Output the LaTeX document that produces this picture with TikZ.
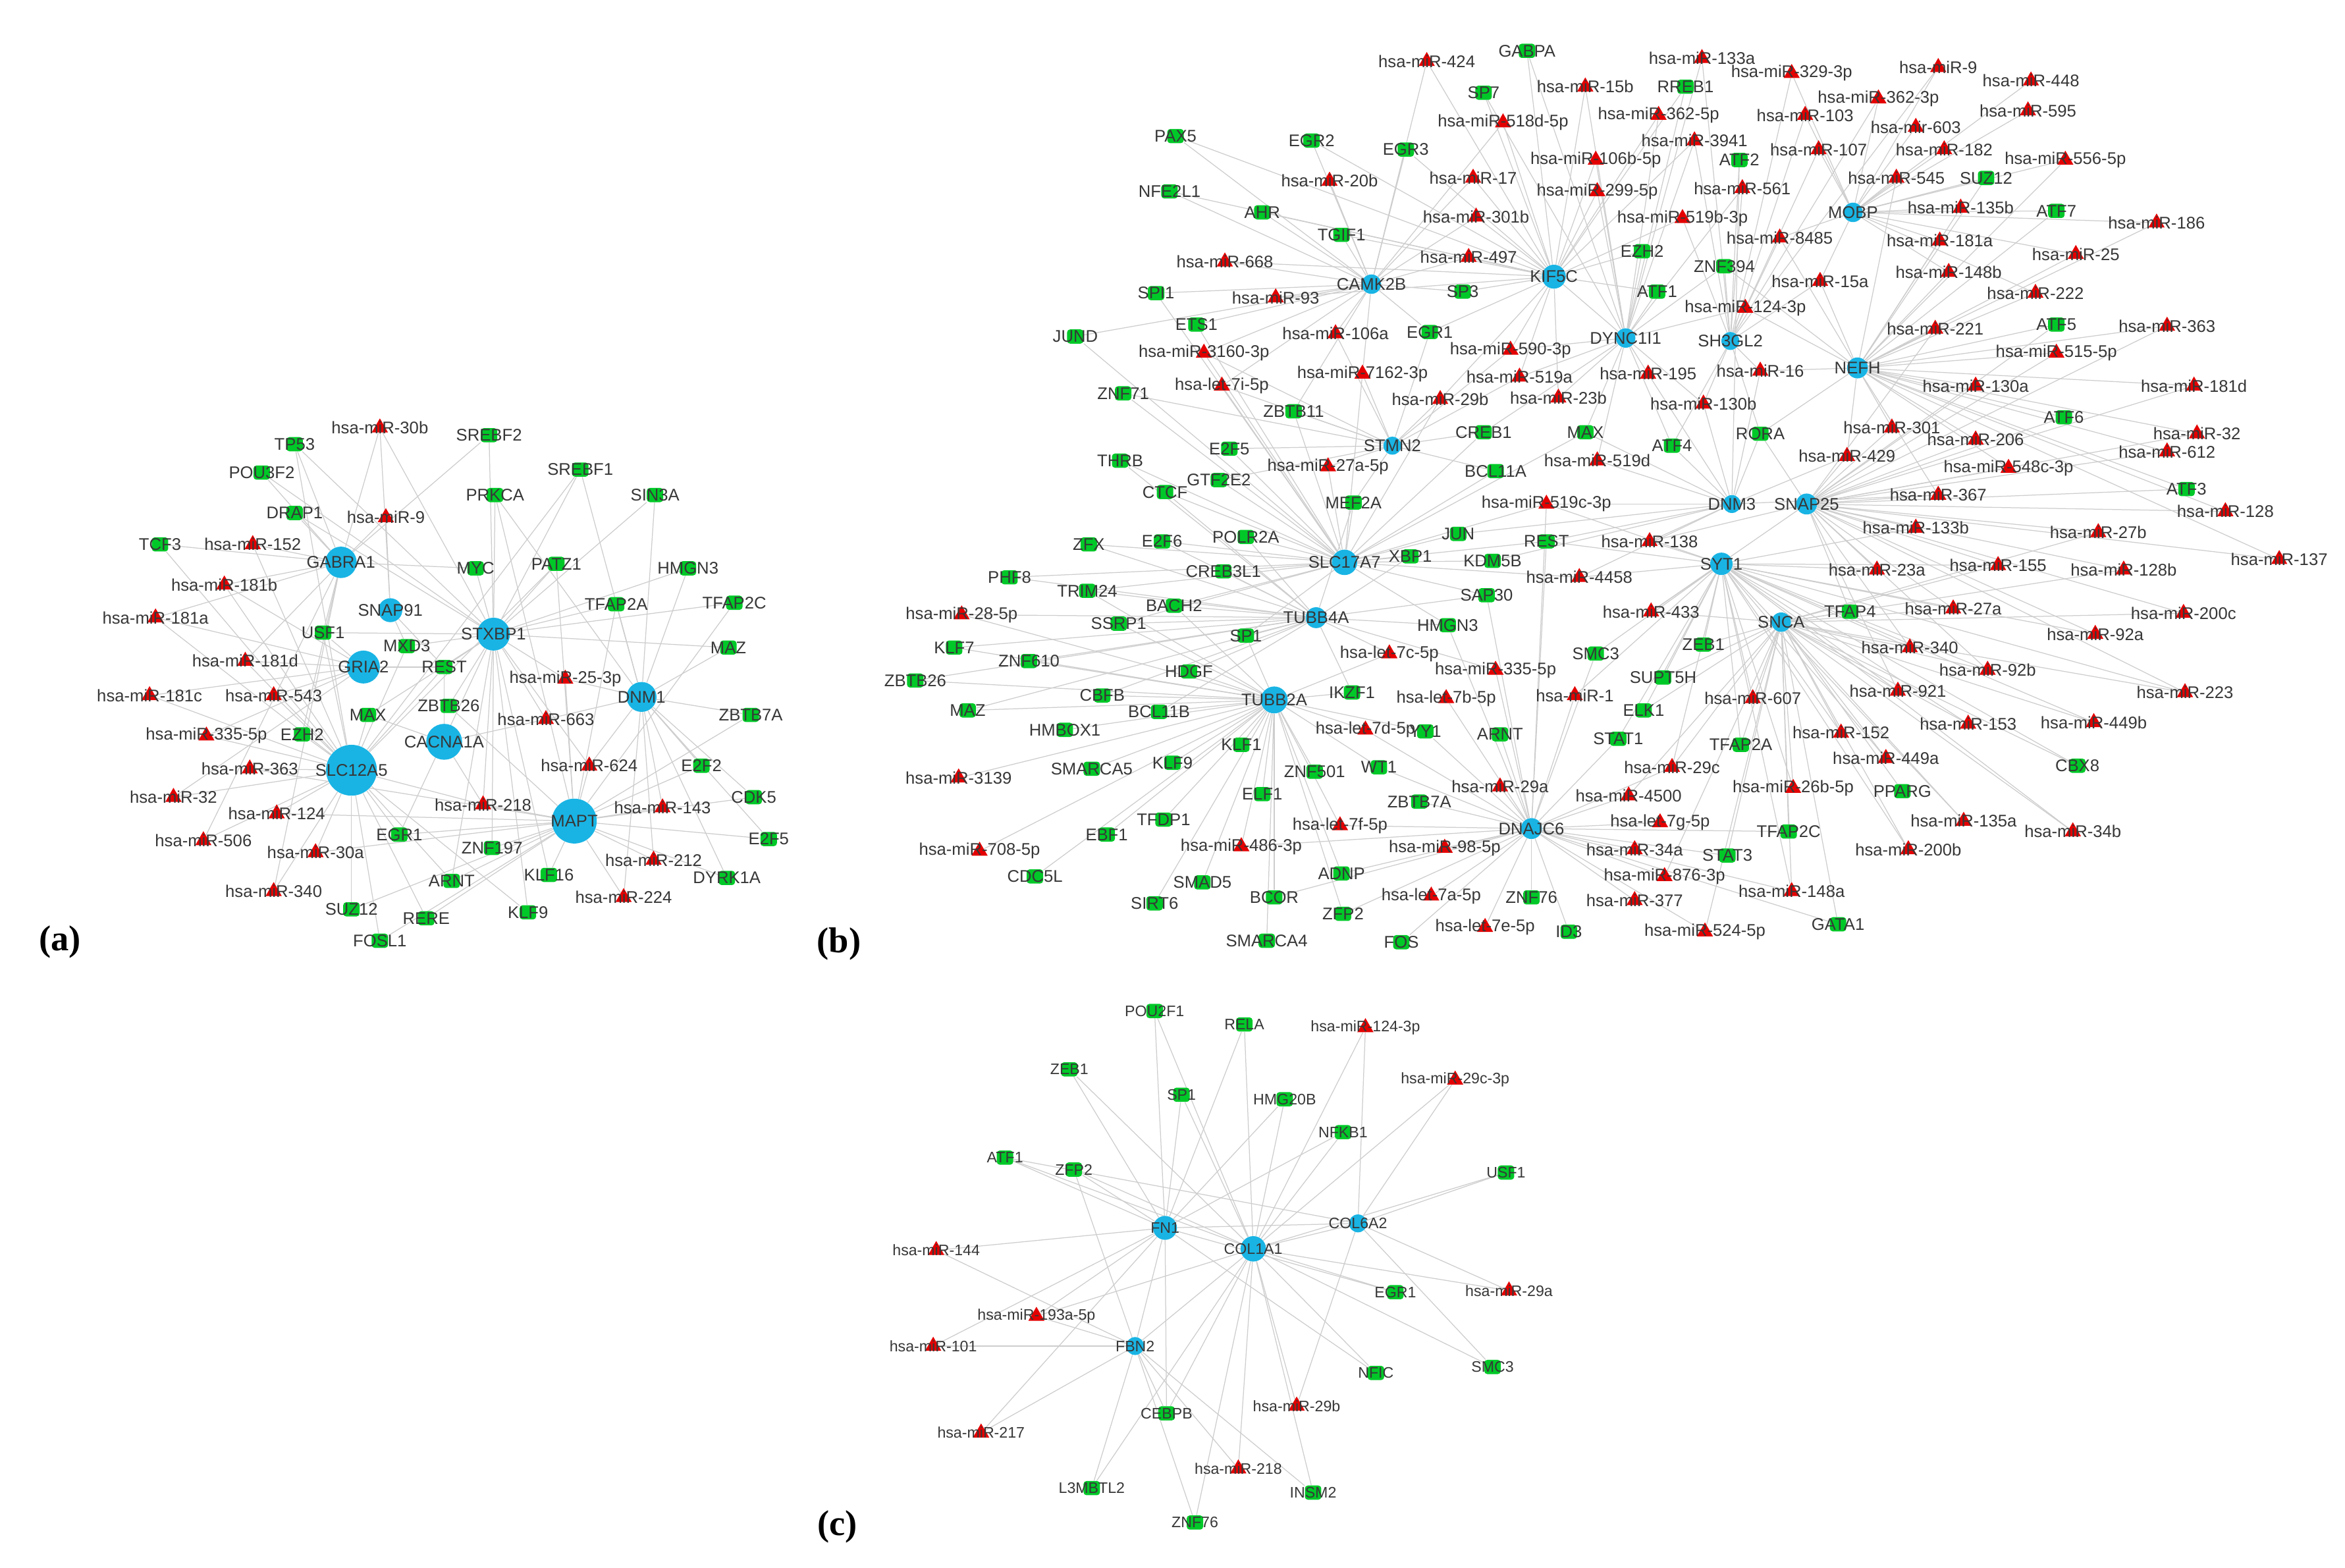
\documentclass[tikz,border=0pt]{standalone}
\usepackage{fontspec}
\setmainfont{Liberation Sans}
\newfontfamily\panelfont{Liberation Serif}
\usetikzlibrary{shapes.geometric}
\definecolor{tfgreen}{RGB}{0,200,40}
\definecolor{mirred}{RGB}{228,0,0}
\definecolor{geneblue}{RGB}{25,180,228}
\definecolor{linkgray}{RGB}{205,205,205}
\definecolor{labgray}{RGB}{55,55,55}
\pgfdeclarelayer{background}
\pgfsetlayers{background,main}
\tikzset{
  tf/.style={rectangle,rounded corners=2pt,fill=tfgreen,minimum width=11pt,minimum height=9.5pt,inner sep=0pt},
  mir/.style={regular polygon,regular polygon sides=3,fill=mirred,minimum size=12.5pt,inner sep=0pt},
  gene/.style={circle,fill=geneblue,inner sep=0pt,minimum size=#1},
  link/.style={draw=linkgray,line width=0.55pt},
  every label/.style={font=\fontsize{11.3}{12}\selectfont,text=labgray,inner sep=0pt},
  panel/.style={font=\panelfont\bfseries\fontsize{24}{26}\selectfont}
}
\begin{document}
\begin{tikzpicture}[x=1pt,y=-1pt]
  \useasboundingbox (0,0) rectangle (1568,1048);

  % (a)
  \node[gene=21pt,label=center:GABRA1] (aGABRA1) at (228,376) {};
  \node[gene=16pt,label=center:SNAP91] (aSNAP91) at (261,408) {};
  \node[gene=22pt,label=center:GRIA2] (aGRIA2) at (243,446) {};
  \node[gene=22pt,label=center:STXBP1] (aSTXBP1) at (330,424) {};
  \node[gene=20pt,label=center:DNM1] (aDNM1) at (429,466) {};
  \node[gene=24pt,label=center:CACNA1A] (aCACNA1A) at (297,496) {};
  \node[gene=34pt,label=center:SLC12A5] (aSLC12A5) at (235,515) {};
  \node[gene=30pt,label=center:MAPT] (aMAPT) at (384,549) {};

  \node[tf,label=center:TP53] (aTP53) at (197,297) {};
  \node[tf,label=center:SREBF2] (aSREBF2) at (327,291) {};
  \node[tf,label=center:POU3F2] (aPOU3F2) at (175,316) {};
  \node[tf,label=center:SREBF1] (aSREBF1) at (388,314) {};
  \node[tf,label=center:PRKCA] (aPRKCA) at (331,331) {};
  \node[tf,label=center:SIN3A] (aSIN3A) at (438,331) {};
  \node[tf,label=center:DRAP1] (aDRAP1) at (197,343) {};
  \node[tf,label=center:TCF3] (aTCF3) at (107,364) {};
  \node[tf,label=center:MYC] (aMYC) at (318,380) {};
  \node[tf,label=center:PATZ1] (aPATZ1) at (372,377) {};
  \node[tf,label=center:HMGN3] (aHMGN3) at (460,380) {};
  \node[tf,label=center:TFAP2A] (aTFAP2A) at (412,404) {};
  \node[tf,label=center:TFAP2C] (aTFAP2C) at (491,403) {};
  \node[tf,label=center:USF1] (aUSF1) at (216,423) {};
  \node[tf,label=center:MXD3] (aMXD3) at (272,432) {};
  \node[tf,label=center:MAZ] (aMAZ) at (487,433) {};
  \node[tf,label=center:REST] (aREST) at (297,446) {};
  \node[tf,label=center:ZBTB26] (aZBTB26) at (300,472) {};
  \node[tf,label=center:ZBTB7A] (aZBTB7A) at (502,478) {};
  \node[tf,label=center:MAX] (aMAX) at (246,478) {};
  \node[tf,label=center:EZH2] (aEZH2) at (202,491) {};
  \node[tf,label=center:E2F2] (aE2F2) at (469,512) {};
  \node[tf,label=center:CDK5] (aCDK5) at (504,533) {};
  \node[tf,label=center:EGR1] (aEGR1) at (267,558) {};
  \node[tf,label=center:ZNF197] (aZNF197) at (329,567) {};
  \node[tf,label=center:E2F5] (aE2F5) at (514,561) {};
  \node[tf,label=center:ARNT] (aARNT) at (302,589) {};
  \node[tf,label=center:KLF16] (aKLF16) at (367,585) {};
  \node[tf,label=center:DYRK1A] (aDYRK1A) at (486,587) {};
  \node[tf,label=center:SUZ12] (aSUZ12) at (235,608) {};
  \node[tf,label=center:RERE] (aRERE) at (285,614) {};
  \node[tf,label=center:KLF9] (aKLF9) at (353,610) {};
  \node[tf,label=center:FOSL1] (aFOSL1) at (254,629) {};

  \node[mir,label=center:hsa-miR-30b] (am30b) at (254,286) {};
  \node[mir,label=center:hsa-miR-9] (am9) at (258,346) {};
  \node[mir,label=center:hsa-miR-152] (am152) at (169,364) {};
  \node[mir,label=center:hsa-miR-181b] (am181b) at (150,391) {};
  \node[mir,label=center:hsa-miR-181a] (am181a) at (104,413) {};
  \node[mir,label=center:hsa-miR-181d] (am181d) at (164,442) {};
  \node[mir,label=center:hsa-miR-181c] (am181c) at (100,465) {};
  \node[mir,label=center:hsa-miR-543] (am543) at (183,465) {};
  \node[mir,label=center:hsa-miR-335-5p] (am335) at (138,492) {};
  \node[mir,label=center:hsa-miR-363] (am363) at (167,514) {};
  \node[mir,label=center:hsa-miR-32] (am32) at (116,533) {};
  \node[mir,label=center:hsa-miR-124] (am124) at (185,544) {};
  \node[mir,label=center:hsa-miR-506] (am506) at (136,562) {};
  \node[mir,label=center:hsa-miR-30a] (am30a) at (211,570) {};
  \node[mir,label=center:hsa-miR-340] (am340) at (183,596) {};
  \node[mir,label=center:hsa-miR-25-3p] (am25) at (378,454) {};
  \node[mir,label=center:hsa-miR-663] (am663) at (365,481) {};
  \node[mir,label=center:hsa-miR-624] (am624) at (394,512) {};
  \node[mir,label=center:hsa-miR-218] (am218) at (323,538) {};
  \node[mir,label=center:hsa-miR-143] (am143) at (443,540) {};
  \node[mir,label=center:hsa-miR-212] (am212) at (437,575) {};
  \node[mir,label=center:hsa-miR-224] (am224) at (417,600) {};

  % (b)
  \node[gene=13pt,label=center:CAMK2B] (bCAMK2B) at (917,190) {};
  \node[gene=16pt,label=center:KIF5C] (bKIF5C) at (1039,185) {};
  \node[gene=13pt,label=center:MOBP] (bMOBP) at (1239,142) {};
  \node[gene=13pt,label=center:DYNC1I1] (bDYNC1I1) at (1087,226) {};
  \node[gene=12pt,label=center:SH3GL2] (bSH3GL2) at (1157,228) {};
  \node[gene=14pt,label=center:NEFH] (bNEFH) at (1242,246) {};
  \node[gene=12pt,label=center:STMN2] (bSTMN2) at (931,298) {};
  \node[gene=17pt,label=center:SLC17A7] (bSLC17A7) at (899,376) {};
  \node[gene=14pt,label=center:TUBB4A] (bTUBB4A) at (880,413) {};
  \node[gene=18pt,label=center:TUBB2A] (bTUBB2A) at (852,468) {};
  \node[gene=12pt,label=center:DNM3] (bDNM3) at (1158,337) {};
  \node[gene=14pt,label=center:SNAP25] (bSNAP25) at (1208,337) {};
  \node[gene=15pt,label=center:SYT1] (bSYT1) at (1151,377) {};
  \node[gene=13pt,label=center:SNCA] (bSNCA) at (1191,416) {};
  \node[gene=14pt,label=center:DNAJC6] (bDNAJC6) at (1024,554) {};

  \node[tf,label=center:PAX5] (bPAX5) at (786,91) {};
  \node[tf,label=center:EGR2] (bEGR2) at (877,94) {};
  \node[tf,label=center:NFE2L1] (bNFE2L1) at (782,128) {};
  \node[tf,label=center:AHR] (bAHR) at (844,142) {};
  \node[tf,label=center:TGIF1] (bTGIF1) at (897,157) {};
  \node[tf,label=center:SPI1] (bSPI1) at (773,196) {};
  \node[tf,label=center:ETS1] (bETS1) at (800,217) {};
  \node[tf,label=center:JUND] (bJUND) at (719,225) {};
  \node[tf,label=center:ZNF71] (bZNF71) at (751,263) {};
  \node[tf,label=center:ZBTB11] (bZBTB11) at (865,275) {};
  \node[tf,label=center:E2F5] (bE2F5) at (822,300) {};
  \node[tf,label=center:THRB] (bTHRB) at (749,308) {};
  \node[tf,label=center:GTF2E2] (bGTF2E2) at (815,321) {};
  \node[tf,label=center:CTCF] (bCTCF) at (779,329) {};
  \node[tf,label=center:GABPA] (bGABPA) at (1021,34) {};
  \node[tf,label=center:SP7] (bSP7) at (992,62) {};
  \node[tf,label=center:RREB1] (bRREB1) at (1127,58) {};
  \node[tf,label=center:EGR3] (bEGR3) at (940,100) {};
  \node[tf,label=center:ATF2] (bATF2) at (1163,107) {};
  \node[tf,label=center:EZH2] (bEZH2) at (1098,168) {};
  \node[tf,label=center:ZNF394] (bZNF394) at (1153,178) {};
  \node[tf,label=center:SP3] (bSP3) at (978,195) {};
  \node[tf,label=center:ATF1] (bATF1) at (1108,195) {};
  \node[tf,label=center:EGR1] (bEGR1) at (956,222) {};
  \node[tf,label=center:CREB1] (bCREB1) at (992,289) {};
  \node[tf,label=center:MAX] (bMAX) at (1060,289) {};
  \node[tf,label=center:RORA] (bRORA) at (1177,290) {};
  \node[tf,label=center:ATF4] (bATF4) at (1118,298) {};
  \node[tf,label=center:BCL11A] (bBCL11A) at (1000,315) {};
  \node[tf,label=center:SUZ12] (bSUZ12) at (1328,119) {};
  \node[tf,label=center:ATF7] (bATF7) at (1375,141) {};
  \node[tf,label=center:ATF5] (bATF5) at (1375,217) {};
  \node[tf,label=center:ATF6] (bATF6) at (1380,279) {};
  \node[tf,label=center:ATF3] (bATF3) at (1462,327) {};
  \node[tf,label=center:MEF2A] (bMEF2A) at (905,336) {};
  \node[tf,label=center:ZFX] (bZFX) at (728,364) {};
  \node[tf,label=center:E2F6] (bE2F6) at (777,362) {};
  \node[tf,label=center:POLR2A] (bPOLR2A) at (833,359) {};
  \node[tf,label=center:PHF8] (bPHF8) at (675,386) {};
  \node[tf,label=center:CREB3L1] (bCREB3L1) at (818,382) {};
  \node[tf,label=center:TRIM24] (bTRIM24) at (727,395) {};
  \node[tf,label=center:BACH2] (bBACH2) at (785,405) {};
  \node[tf,label=center:SSRP1] (bSSRP1) at (748,417) {};
  \node[tf,label=center:SP1] (bSP1) at (833,425) {};
  \node[tf,label=center:KLF7] (bKLF7) at (638,433) {};
  \node[tf,label=center:ZNF610] (bZNF610) at (688,442) {};
  \node[tf,label=center:ZBTB26] (bZBTB26) at (612,455) {};
  \node[tf,label=center:HDGF] (bHDGF) at (795,449) {};
  \node[tf,label=center:CBFB] (bCBFB) at (737,465) {};
  \node[tf,label=center:IKZF1] (bIKZF1) at (904,463) {};
  \node[tf,label=center:MAZ] (bMAZ) at (647,475) {};
  \node[tf,label=center:BCL11B] (bBCL11B) at (775,476) {};
  \node[tf,label=center:HMBOX1] (bHMBOX1) at (712,488) {};
  \node[tf,label=center:KLF1] (bKLF1) at (830,498) {};
  \node[tf,label=center:SMARCA5] (bSMARCA5) at (730,514) {};
  \node[tf,label=center:KLF9] (bKLF9) at (784,510) {};
  \node[tf,label=center:ZNF501] (bZNF501) at (879,516) {};
  \node[tf,label=center:ELF1] (bELF1) at (844,531) {};
  \node[tf,label=center:TFDP1] (bTFDP1) at (778,548) {};
  \node[tf,label=center:EBF1] (bEBF1) at (740,558) {};
  \node[tf,label=center:CDC5L] (bCDC5L) at (692,586) {};
  \node[tf,label=center:ADNP] (bADNP) at (897,584) {};
  \node[tf,label=center:SMAD5] (bSMAD5) at (804,590) {};
  \node[tf,label=center:BCOR] (bBCOR) at (852,600) {};
  \node[tf,label=center:SIRT6] (bSIRT6) at (772,604) {};
  \node[tf,label=center:ZFP2] (bZFP2) at (898,611) {};
  \node[tf,label=center:SMARCA4] (bSMARCA4) at (847,629) {};
  \node[tf,label=center:JUN] (bJUN) at (975,357) {};
  \node[tf,label=center:REST] (bREST) at (1034,362) {};
  \node[tf,label=center:XBP1] (bXBP1) at (943,372) {};
  \node[tf,label=center:KDM5B] (bKDM5B) at (998,375) {};
  \node[tf,label=center:SAP30] (bSAP30) at (994,398) {};
  \node[tf,label=center:HMGN3] (bHMGN3) at (968,418) {};
  \node[tf,label=center:ZEB1] (bZEB1) at (1139,431) {};
  \node[tf,label=center:SMC3] (bSMC3) at (1067,437) {};
  \node[tf,label=center:SUPT5H] (bSUPT5H) at (1112,453) {};
  \node[tf,label=center:ELK1] (bELK1) at (1099,475) {};
  \node[tf,label=center:YY1] (bYY1) at (953,489) {};
  \node[tf,label=center:ARNT] (bARNT) at (1003,491) {};
  \node[tf,label=center:STAT1] (bSTAT1) at (1082,494) {};
  \node[tf,label=center:TFAP2A] (bTFAP2A) at (1164,498) {};
  \node[tf,label=center:TFAP4] (bTFAP4) at (1237,409) {};
  \node[tf,label=center:WT1] (bWT1) at (922,513) {};
  \node[tf,label=center:ZBTB7A] (bZBTB7A) at (949,536) {};
  \node[tf,label=center:TFAP2C] (bTFAP2C) at (1196,556) {};
  \node[tf,label=center:STAT3] (bSTAT3) at (1155,572) {};
  \node[tf,label=center:ZNF76] (bZNF76) at (1024,600) {};
  \node[tf,label=center:ID3] (bID3) at (1049,623) {};
  \node[tf,label=center:GATA1] (bGATA1) at (1229,618) {};
  \node[tf,label=center:FOS] (bFOS) at (937,630) {};
  \node[tf,label=center:CBX8] (bCBX8) at (1389,512) {};
  \node[tf,label=center:PPARG] (bPPARG) at (1272,529) {};

  \node[mir,label=center:hsa-miR-424] (bm424) at (954,41) {};
  \node[mir,label=center:hsa-miR-133a] (bm133a) at (1138,39) {};
  \node[mir,label=center:hsa-miR-329-3p] (bm329) at (1198,49) {};
  \node[mir,label=center:hsa-miR-15b] (bm15b) at (1060,58) {};
  \node[mir,label=center:hsa-miR-518d-5p] (bm518d) at (1005,82) {};
  \node[mir,label=center:hsa-miR-362-5p] (bm362b) at (1109,77) {};
  \node[mir,label=center:hsa-miR-103] (bm103) at (1207,77) {};
  \node[mir,label=center:hsa-miR-3941] (bm3941) at (1133,94) {};
  \node[mir,label=center:hsa-miR-106b-5p] (bm106b) at (1067,107) {};
  \node[mir,label=center:hsa-miR-107] (bm107) at (1216,100) {};
  \node[mir,label=center:hsa-miR-17] (bm17) at (985,119) {};
  \node[mir,label=center:hsa-miR-299-5p] (bm299) at (1068,128) {};
  \node[mir,label=center:hsa-miR-561] (bm561) at (1165,126) {};
  \node[mir,label=center:hsa-miR-301b] (bm301b) at (987,145) {};
  \node[mir,label=center:hsa-miR-519b-3p] (bm519b) at (1125,146) {};
  \node[mir,label=center:hsa-miR-8485] (bm8485) at (1190,159) {};
  \node[mir,label=center:hsa-miR-497] (bm497) at (982,172) {};
  \node[mir,label=center:hsa-miR-15a] (bm15a) at (1217,188) {};
  \node[mir,label=center:hsa-miR-124-3p] (bm124) at (1167,206) {};
  \node[mir,label=center:hsa-miR-20b] (bm20b) at (889,121) {};
  \node[mir,label=center:hsa-miR-668] (bm668) at (819,175) {};
  \node[mir,label=center:hsa-miR-93] (bm93) at (853,199) {};
  \node[mir,label=center:hsa-miR-106a] (bm106a) at (893,223) {};
  \node[mir,label=center:hsa-miR-3160-3p] (bm3160) at (805,236) {};
  \node[mir,label=center:hsa-miR-7162-3p] (bm7162) at (911,250) {};
  \node[mir,label=center:hsa-let-7i-5p] (blet7i) at (817,258) {};
  \node[mir,label=center:hsa-miR-590-3p] (bm590) at (1010,234) {};
  \node[mir,label=center:hsa-miR-519a] (bm519a) at (1016,252) {};
  \node[mir,label=center:hsa-miR-195] (bm195) at (1102,250) {};
  \node[mir,label=center:hsa-miR-16] (bm16) at (1177,248) {};
  \node[mir,label=center:hsa-miR-29b] (bm29b) at (963,267) {};
  \node[mir,label=center:hsa-miR-23b] (bm23b) at (1042,266) {};
  \node[mir,label=center:hsa-miR-130b] (bm130b) at (1139,270) {};
  \node[mir,label=center:hsa-miR-27a-5p] (bm27a5p) at (888,312) {};
  \node[mir,label=center:hsa-miR-519d] (bm519d) at (1068,308) {};
  \node[mir,label=center:hsa-miR-429] (bm429) at (1235,305) {};
  \node[mir,label=center:hsa-miR-9] (bm9) at (1296,45) {};
  \node[mir,label=center:hsa-miR-448] (bm448) at (1358,54) {};
  \node[mir,label=center:hsa-miR-362-3p] (bm362a) at (1256,66) {};
  \node[mir,label=center:hsa-miR-595] (bm595) at (1356,74) {};
  \node[mir,label=center:hsa-mir-603] (bm603) at (1281,85) {};
  \node[mir,label=center:hsa-miR-182] (bm182) at (1300,100) {};
  \node[mir,label=center:hsa-miR-556-5p] (bm556) at (1381,107) {};
  \node[mir,label=center:hsa-miR-545] (bm545) at (1268,119) {};
  \node[mir,label=center:hsa-miR-135b] (bm135b) at (1311,139) {};
  \node[mir,label=center:hsa-miR-186] (bm186) at (1442,149) {};
  \node[mir,label=center:hsa-miR-181a] (bm181a) at (1297,161) {};
  \node[mir,label=center:hsa-miR-25] (bm25) at (1388,170) {};
  \node[mir,label=center:hsa-miR-148b] (bm148b) at (1303,182) {};
  \node[mir,label=center:hsa-miR-222] (bm222) at (1361,196) {};
  \node[mir,label=center:hsa-miR-221] (bm221) at (1294,220) {};
  \node[mir,label=center:hsa-miR-363] (bm363) at (1449,218) {};
  \node[mir,label=center:hsa-miR-515-5p] (bm515) at (1375,236) {};
  \node[mir,label=center:hsa-miR-130a] (bm130a) at (1321,258) {};
  \node[mir,label=center:hsa-miR-181d] (bm181d) at (1467,258) {};
  \node[mir,label=center:hsa-miR-301] (bm301) at (1265,286) {};
  \node[mir,label=center:hsa-miR-206] (bm206) at (1321,294) {};
  \node[mir,label=center:hsa-miR-32] (bm32) at (1469,290) {};
  \node[mir,label=center:hsa-miR-612] (bm612) at (1449,302) {};
  \node[mir,label=center:hsa-miR-548c-3p] (bm548) at (1343,313) {};
  \node[mir,label=center:hsa-miR-367] (bm367) at (1296,331) {};
  \node[mir,label=center:hsa-miR-128] (bm128) at (1488,342) {};
  \node[mir,label=center:hsa-miR-133b] (bm133b) at (1281,353) {};
  \node[mir,label=center:hsa-miR-27b] (bm27b) at (1403,356) {};
  \node[mir,label=center:hsa-miR-137] (bm137) at (1524,374) {};
  \node[mir,label=center:hsa-miR-23a] (bm23a) at (1255,381) {};
  \node[mir,label=center:hsa-miR-155] (bm155) at (1336,378) {};
  \node[mir,label=center:hsa-miR-128b] (bm128b) at (1420,381) {};
  \node[mir,label=center:hsa-miR-27a] (bm27a) at (1306,407) {};
  \node[mir,label=center:hsa-miR-200c] (bm200c) at (1460,410) {};
  \node[mir,label=center:hsa-miR-92a] (bm92a) at (1401,424) {};
  \node[mir,label=center:hsa-miR-340] (bm340) at (1277,433) {};
  \node[mir,label=center:hsa-miR-92b] (bm92b) at (1329,448) {};
  \node[mir,label=center:hsa-miR-223] (bm223) at (1461,463) {};
  \node[mir,label=center:hsa-miR-921] (bm921) at (1269,462) {};
  \node[mir,label=center:hsa-miR-153] (bm153) at (1316,484) {};
  \node[mir,label=center:hsa-miR-449b] (bm449b) at (1400,483) {};
  \node[mir,label=center:hsa-miR-152] (bm152) at (1231,490) {};
  \node[mir,label=center:hsa-miR-449a] (bm449a) at (1261,507) {};
  \node[mir,label=center:hsa-miR-135a] (bm135a) at (1313,549) {};
  \node[mir,label=center:hsa-miR-34b] (bm34b) at (1386,556) {};
  \node[mir,label=center:hsa-miR-200b] (bm200b) at (1276,568) {};
  \node[mir,label=center:hsa-miR-28-5p] (bm28) at (643,411) {};
  \node[mir,label=center:hsa-miR-3139] (bm3139) at (641,520) {};
  \node[mir,label=center:hsa-miR-708-5p] (bm708) at (655,569) {};
  \node[mir,label=center:hsa-miR-486-3p] (bm486) at (830,566) {};
  \node[mir,label=center:hsa-let-7f-5p] (blet7f) at (896,552) {};
  \node[mir,label=center:hsa-miR-519c-3p] (bm519c) at (1034,337) {};
  \node[mir,label=center:hsa-miR-138] (bm138) at (1103,362) {};
  \node[mir,label=center:hsa-miR-4458] (bm4458) at (1056,386) {};
  \node[mir,label=center:hsa-miR-433] (bm433) at (1104,409) {};
  \node[mir,label=center:hsa-let-7c-5p] (blet7c) at (929,437) {};
  \node[mir,label=center:hsa-miR-335-5p] (bm335) at (1000,448) {};
  \node[mir,label=center:hsa-let-7b-5p] (blet7b) at (967,467) {};
  \node[mir,label=center:hsa-miR-1] (bm1) at (1053,465) {};
  \node[mir,label=center:hsa-miR-607] (bm607) at (1172,467) {};
  \node[mir,label=center:hsa-let-7d-5p] (blet7d) at (913,488) {};
  \node[mir,label=center:hsa-miR-29c] (bm29c) at (1118,513) {};
  \node[mir,label=center:hsa-miR-29a] (bm29a) at (1003,526) {};
  \node[mir,label=center:hsa-miR-4500] (bm4500) at (1089,532) {};
  \node[mir,label=center:hsa-miR-26b-5p] (bm26b) at (1199,527) {};
  \node[mir,label=center:hsa-let-7g-5p] (blet7g) at (1110,550) {};
  \node[mir,label=center:hsa-miR-98-5p] (bm98) at (966,567) {};
  \node[mir,label=center:hsa-miR-34a] (bm34a) at (1093,568) {};
  \node[mir,label=center:hsa-miR-876-3p] (bm876) at (1113,586) {};
  \node[mir,label=center:hsa-let-7a-5p] (blet7a) at (957,599) {};
  \node[mir,label=center:hsa-miR-377] (bm377) at (1093,602) {};
  \node[mir,label=center:hsa-miR-148a] (bm148a) at (1198,596) {};
  \node[mir,label=center:hsa-let-7e-5p] (blet7e) at (993,620) {};
  \node[mir,label=center:hsa-miR-524-5p] (bm524) at (1140,623) {};

  % (c)
  \begin{scope}[every label/.append style={font=\fontsize{10.2}{11}\selectfont}]
  \node[gene=16pt,label=center:FN1] (cFN1) at (779,821) {};
  \node[gene=17pt,label=center:COL1A1] (cCOL1A1) at (838,835) {};
  \node[gene=12pt,label=center:COL6A2] (cCOL6A2) at (908,818) {};
  \node[gene=12pt,label=center:FBN2] (cFBN2) at (759,900) {};

  \node[tf,label=center:POU2F1] (cPOU2F1) at (772,676) {};
  \node[tf,label=center:RELA] (cRELA) at (832,685) {};
  \node[tf,label=center:ZEB1] (cZEB1) at (715,715) {};
  \node[tf,label=center:SP1] (cSP1) at (790,732) {};
  \node[tf,label=center:HMG20B] (cHMG20B) at (859,735) {};
  \node[tf,label=center:NFKB1] (cNFKB1) at (898,757) {};
  \node[tf,label=center:ATF1] (cATF1) at (672,774) {};
  \node[tf,label=center:ZFP2] (cZFP2) at (718,782) {};
  \node[tf,label=center:USF1] (cUSF1) at (1007,784) {};
  \node[tf,label=center:EGR1] (cEGR1) at (933,864) {};
  \node[tf,label=center:NFIC] (cNFIC) at (920,918) {};
  \node[tf,label=center:SMC3] (cSMC3) at (998,914) {};
  \node[tf,label=center:CEBPB] (cCEBPB) at (780,945) {};
  \node[tf,label=center:L3MBTL2] (cL3MBTL2) at (730,995) {};
  \node[tf,label=center:ZNF76] (cZNF76) at (799,1018) {};
  \node[tf,label=center:INSM2] (cINSM2) at (878,998) {};

  \node[mir,label=center:hsa-miR-124-3p] (cm124) at (913,687) {};
  \node[mir,label=center:hsa-miR-29c-3p] (cm29c) at (973,722) {};
  \node[mir,label=center:hsa-miR-144] (cm144) at (626,836) {};
  \node[mir,label=center:hsa-miR-193a-5p] (cm193) at (693,880) {};
  \node[mir,label=center:hsa-miR-101] (cm101) at (624,900) {};
  \node[mir,label=center:hsa-miR-29a] (cm29a) at (1009,863) {};
  \node[mir,label=center:hsa-miR-29b] (cm29b) at (867,940) {};
  \node[mir,label=center:hsa-miR-217] (cm217) at (656,958) {};
  \node[mir,label=center:hsa-miR-218] (cm218) at (828,982) {};
  \end{scope}

  \begin{pgfonlayer}{background}
  \draw[link] (aGABRA1) edge (am30b) edge (aTP53) edge (aPOU3F2) edge (aDRAP1) edge (am9) edge (aTCF3) edge (am152) edge (am181b) edge (am181a) edge (am181d) edge (aUSF1) edge (aSREBF2) edge (aMYC) edge (am506) edge (am340) edge (aEZH2);
  \draw[link] (aSNAP91) edge (am30b) edge (am9) edge (aREST) edge (aMXD3);
  \draw[link] (aGRIA2) edge (am181b) edge (am181a) edge (am181d) edge (am181c) edge (am543) edge (am335) edge (am32) edge (aREST) edge (aUSF1);
  \draw[link] (aSTXBP1) edge (am30b) edge (aTP53) edge (aPOU3F2) edge (aDRAP1) edge (aSREBF2) edge (aSREBF1) edge (aPRKCA) edge (aSIN3A) edge (aMYC) edge (aPATZ1) edge (aHMGN3) edge (aTFAP2A) edge (aTFAP2C) edge (aMAZ) edge (aREST) edge (am25) edge (aZBTB26) edge (am663) edge (am624) edge (am218) edge (aZNF197) edge (aARNT) edge (aKLF16) edge (aKLF9) edge (aUSF1) edge (aMAX) edge (aMXD3) edge (aEGR1);
  \draw[link] (aDNM1) edge (aSREBF1) edge (aPRKCA) edge (aSIN3A) edge (aHMGN3) edge (aTFAP2A) edge (aMAZ) edge (am25) edge (aZBTB7A) edge (am663) edge (am624) edge (aE2F2) edge (aCDK5) edge (am143) edge (aE2F5) edge (am212) edge (aDYRK1A) edge (am224);
  \draw[link] (aCACNA1A) edge (am663) edge (am218) edge (aMAX) edge (aREST);
  \draw[link] (aSLC12A5) edge (aTP53) edge (aTCF3) edge (am152) edge (am181b) edge (am181a) edge (am181d) edge (am181c) edge (am543) edge (am335) edge (aEZH2) edge (am363) edge (am32) edge (am124) edge (am506) edge (am30a) edge (am340) edge (aSUZ12) edge (aFOSL1) edge (aUSF1) edge (aMAX) edge (aEGR1) edge (aMXD3) edge (aREST) edge (aSREBF1) edge (aPATZ1) edge (am218) edge (aARNT) edge (aKLF9) edge (aRERE);
  \draw[link] (aMAPT) edge (am363) edge (am124) edge (am30a) edge (aSUZ12) edge (aFOSL1) edge (aEGR1) edge (am25) edge (aZBTB26) edge (aZBTB7A) edge (am624) edge (aE2F2) edge (aCDK5) edge (am218) edge (am143) edge (aZNF197) edge (aE2F5) edge (am212) edge (aARNT) edge (aKLF16) edge (aDYRK1A) edge (am224) edge (aRERE) edge (aPATZ1) edge (aTFAP2A) edge (aTFAP2C) edge (aPRKCA);

  \draw[link] (bCAMK2B) edge (bPAX5) edge (bEGR2) edge (bNFE2L1) edge (bAHR) edge (bTGIF1) edge (bm20b) edge (bm668) edge (bm93) edge (bSPI1) edge (bETS1) edge (bm106a) edge (bm3160) edge (bm424) edge (bEGR3) edge (bm17) edge (bm301b) edge (bm497) edge (bSP3) edge (bEGR1) edge (bZBTB11) edge (bm518d) edge (bm7162) edge (blet7i) edge (bJUND);
  \draw[link] (bKIF5C) edge (bPAX5) edge (bNFE2L1) edge (bAHR) edge (bEGR2) edge (bGABPA) edge (bSP7) edge (bm518d) edge (bm15b) edge (bm106b) edge (bm299) edge (bm17) edge (bm301b) edge (bm497) edge (bSP3) edge (bEGR1) edge (bEZH2) edge (bm519b) edge (bm590) edge (bm519a) edge (bm23b) edge (bm29b) edge (bATF1) edge (bRREB1) edge (bm362b) edge (bm3941) edge (bTGIF1) edge (bm424) edge (bm668) edge (bm93);
  \draw[link] (bDYNC1I1) edge (bGABPA) edge (bm15b) edge (bm133a) edge (bRREB1) edge (bm362b) edge (bm3941) edge (bm106b) edge (bm299) edge (bEZH2) edge (bATF1) edge (bm195) edge (bm130b) edge (bMAX) edge (bATF4) edge (bm519d) edge (bCREB1) edge (bm561) edge (bZNF394) edge (bm124) edge (bSP7) edge (bEGR3) edge (bm590) edge (bm519a) edge (bm23b);
  \draw[link] (bSH3GL2) edge (bm133a) edge (bm329) edge (bm103) edge (bATF2) edge (bm561) edge (bm8485) edge (bZNF394) edge (bm124) edge (bm16) edge (bm130b) edge (bRORA) edge (bATF4) edge (bm15a) edge (bm107) edge (bm9) edge (bm362a) edge (bm519b) edge (bm3941);
  \draw[link] (bMOBP) edge (bm9) edge (bm448) edge (bm362a) edge (bm595) edge (bm603) edge (bm182) edge (bm556) edge (bm545) edge (bSUZ12) edge (bm135b) edge (bATF7) edge (bm181a) edge (bm148b) edge (bm103) edge (bm107) edge (bm329) edge (bm15a) edge (bm8485) edge (bm186) edge (bm25) edge (bm222);
  \draw[link] (bNEFH) edge (bm186) edge (bm25) edge (bm222) edge (bm221) edge (bATF5) edge (bm363) edge (bm515) edge (bm130a) edge (bm181d) edge (bATF6) edge (bm301) edge (bm206) edge (bm32) edge (bm612) edge (bm429) edge (bm548) edge (bATF3) edge (bm367) edge (bm148b) edge (bm181a) edge (bm135b) edge (bm16) edge (bm15a) edge (bm545) edge (bATF7) edge (bSUZ12) edge (bm556) edge (bm124) edge (bZNF394) edge (bRORA) edge (bm128) edge (bm137) edge (bm8485);
  \draw[link] (bSNAP25) edge (bm128) edge (bm137) edge (bm27b) edge (bm133b) edge (bm23a) edge (bm155) edge (bm128b) edge (bm27a) edge (bm200c) edge (bm92a) edge (bm340) edge (bm92b) edge (bm223) edge (bm921) edge (bm367) edge (bATF3) edge (bm612) edge (bm32) edge (bm181d) edge (bm548) edge (bm206) edge (bm301) edge (bm429) edge (bm130a) edge (bATF6) edge (bm363) edge (bm515) edge (bTFAP4) edge (bm138) edge (bm433) edge (bRORA) edge (bm221) edge (bATF5);
  \draw[link] (bDNM3) edge (bm519c) edge (bREST) edge (bm138) edge (bm4458) edge (bm130b) edge (bm16) edge (bRORA) edge (bATF4) edge (bm519d) edge (bMAX) edge (bm195) edge (bKDM5B) edge (bJUN) edge (bATF2) edge (bm429) edge (bm367);
  \draw[link] (bSYT1) edge (bm138) edge (bm433) edge (bm4458) edge (bZEB1) edge (bSUPT5H) edge (bm607) edge (bm152) edge (bm449a) edge (bm921) edge (bm340) edge (bm23a) edge (bm133b) edge (bm27a) edge (bm155) edge (bm92b) edge (bm153) edge (bm200b) edge (bm135a) edge (bm34b) edge (bm449b) edge (bm223) edge (bm92a) edge (bCBX8) edge (bm1) edge (bSMC3) edge (bm29c) edge (bm26b) edge (bm148a) edge (bTFAP2A) edge (bSTAT1) edge (bELK1) edge (bm519c) edge (bREST);
  \draw[link] (bSNCA) edge (bTFAP4) edge (bm27a) edge (bm340) edge (bm921) edge (bm152) edge (bm449a) edge (bPPARG) edge (bm135a) edge (bm200b) edge (bm34b) edge (bm153) edge (bm92b) edge (bm449b) edge (bCBX8) edge (bm607) edge (bm26b) edge (bTFAP2C) edge (bSTAT3) edge (bm148a) edge (bGATA1) edge (bTFAP2A) edge (bZEB1) edge (bm200c) edge (bm223) edge (bm128b) edge (bm27b) edge (bm155) edge (bm433) edge (bSUPT5H) edge (bELK1) edge (bm29c) edge (bm4500) edge (bm524) edge (bm876);
  \draw[link] (bSTMN2) edge (bm7162) edge (bm29b) edge (bm27a5p) edge (bZBTB11) edge (bCREB1) edge (bBCL11A) edge (bm519a) edge (bm590) edge (bMEF2A) edge (bGTF2E2) edge (bE2F5) edge (bZNF71) edge (blet7i) edge (bm106a) edge (bEGR1) edge (bm3160);
  \draw[link] (bSLC17A7) edge (bJUND) edge (bZNF71) edge (bTHRB) edge (bCTCF) edge (bE2F5) edge (bGTF2E2) edge (bm27a5p) edge (bMEF2A) edge (bPOLR2A) edge (bE2F6) edge (bZFX) edge (bCREB3L1) edge (bBACH2) edge (bPHF8) edge (bTRIM24) edge (bSSRP1) edge (bSP1) edge (bXBP1) edge (bJUN) edge (bKDM5B) edge (bSAP30) edge (bHMGN3) edge (bREST) edge (bm519c) edge (bBCL11A) edge (bCREB1) edge (bZBTB11) edge (blet7i) edge (bm3160) edge (bETS1) edge (bSPI1) edge (bm7162) edge (bMAX) edge (bm4458) edge (bm29b);
  \draw[link] (bTUBB4A) edge (bZFX) edge (bE2F6) edge (bPOLR2A) edge (bPHF8) edge (bTRIM24) edge (bm28) edge (bSSRP1) edge (bBACH2) edge (bCREB3L1) edge (bSP1) edge (bHDGF) edge (bKLF7) edge (bZNF610) edge (bZBTB26) edge (bMAZ) edge (bCBFB) edge (bBCL11B) edge (blet7c) edge (bIKZF1) edge (bHMGN3) edge (bSAP30) edge (bXBP1) edge (bCTCF) edge (bTHRB) edge (bm335) edge (bMEF2A);
  \draw[link] (bTUBB2A) edge (bKLF7) edge (bZBTB26) edge (bMAZ) edge (bHMBOX1) edge (bCBFB) edge (bBCL11B) edge (bHDGF) edge (bZNF610) edge (bSSRP1) edge (bSP1) edge (bKLF1) edge (bKLF9) edge (bSMARCA5) edge (bm3139) edge (bZNF501) edge (bELF1) edge (bTFDP1) edge (bEBF1) edge (bm708) edge (bCDC5L) edge (bm486) edge (bSMAD5) edge (bSIRT6) edge (bBCOR) edge (bSMARCA4) edge (bADNP) edge (bZFP2) edge (blet7f) edge (bIKZF1) edge (blet7d) edge (blet7c) edge (bWT1) edge (bYY1) edge (bm28) edge (bBACH2) edge (bTRIM24);
  \draw[link] (bDNAJC6) edge (blet7d) edge (bYY1) edge (bARNT) edge (bWT1) edge (bZBTB7A) edge (bm29a) edge (blet7f) edge (bm98) edge (blet7a) edge (bZNF76) edge (blet7e) edge (bID3) edge (bFOS) edge (bm377) edge (bm876) edge (bm34a) edge (blet7g) edge (bm4500) edge (bSTAT1) edge (bm29c) edge (bm1) edge (bm335) edge (blet7b) edge (bHMGN3) edge (bSMC3) edge (bADNP) edge (bZFP2) edge (bBCOR) edge (bm524) edge (bSTAT3) edge (bm148a) edge (bGATA1) edge (bTFAP2C) edge (bREST) edge (bm519c) edge (bSAP30) edge (bm486);

  \draw[link] (cFN1) edge (cPOU2F1) edge (cZEB1) edge (cSP1) edge (cATF1) edge (cZFP2) edge (cRELA) edge (cm144) edge (cm193) edge (cm101) edge (cHMG20B) edge (cNFKB1) edge (cEGR1) edge (cNFIC) edge (cCEBPB) edge (cFBN2) edge (cCOL6A2) edge (cm217);
  \draw[link] (cCOL1A1) edge (cPOU2F1) edge (cZEB1) edge (cSP1) edge (cATF1) edge (cZFP2) edge (cRELA) edge (cm193) edge (cHMG20B) edge (cNFKB1) edge (cm124) edge (cm29c) edge (cUSF1) edge (cEGR1) edge (cm29a) edge (cNFIC) edge (cSMC3) edge (cm29b) edge (cINSM2) edge (cm218) edge (cCEBPB) edge (cL3MBTL2) edge (cZNF76) edge (cFBN2) edge (cCOL6A2);
  \draw[link] (cCOL6A2) edge (cm124) edge (cm29c) edge (cUSF1) edge (cm29a) edge (cSMC3) edge (cm29b) edge (cATF1);
  \draw[link] (cFBN2) edge (cm144) edge (cm193) edge (cm101) edge (cm217) edge (cZFP2) edge (cCEBPB) edge (cL3MBTL2) edge (cZNF76) edge (cm218) edge (cINSM2);
  \end{pgfonlayer}

  \node[panel] (pa) at (40,630) {(a)};
  \node[panel] (pb) at (561,631) {(b)};
  \node[panel] (pc) at (560,1021) {(c)};
\end{tikzpicture}
\end{document}
